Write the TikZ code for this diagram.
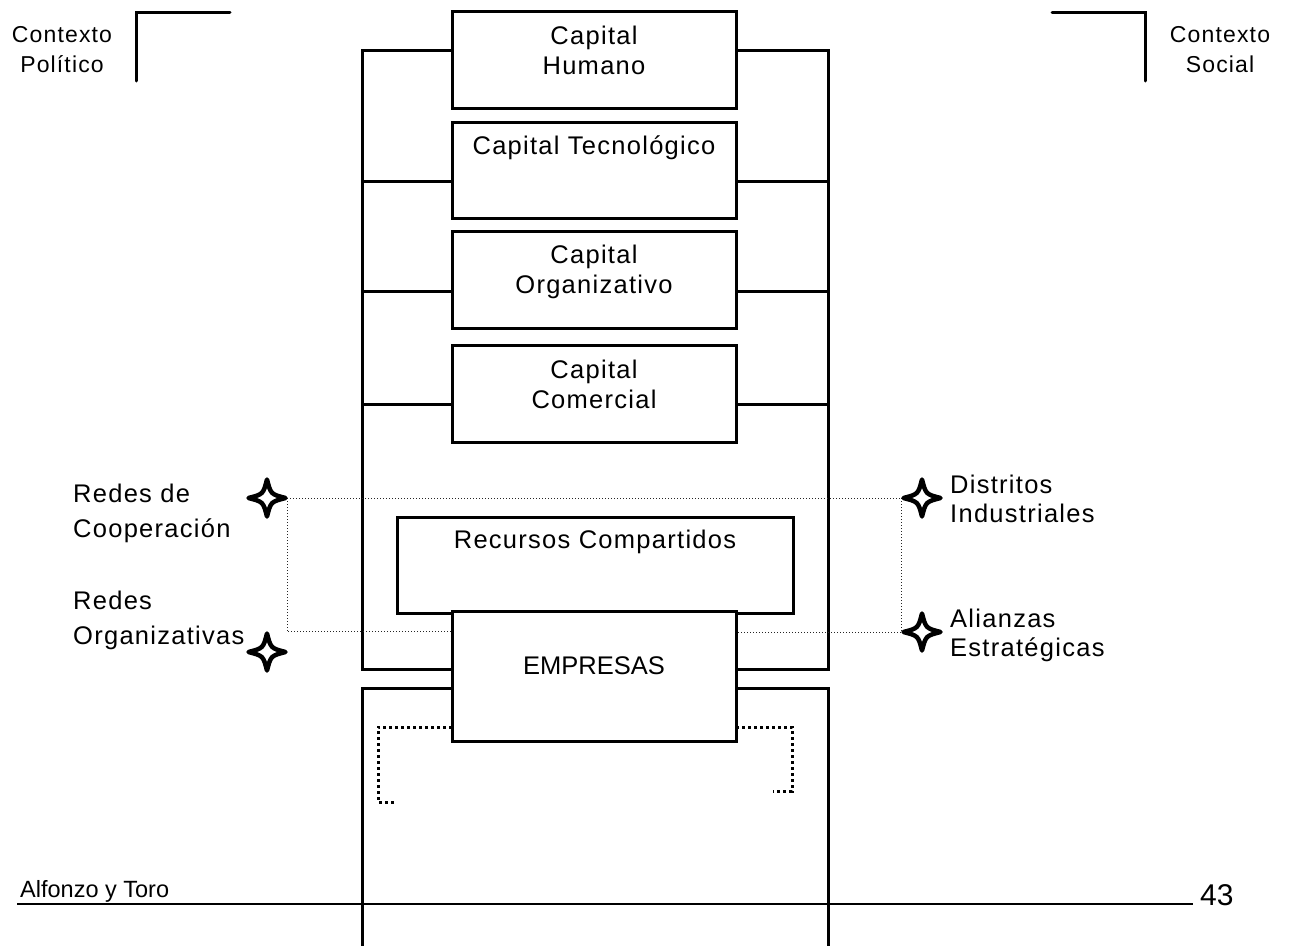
\documentclass[tikz,border=0pt]{standalone}
\usepackage{fontspec}
\setmainfont{Liberation Sans}
\newfontfamily\spacedfont[LetterSpace=5]{Liberation Sans}
\usetikzlibrary{calc}
\begin{document}
\begin{tikzpicture}[x=1pt,y=-1pt,
  box/.style={draw, line width=3pt, fill=white, inner sep=0pt, minimum width=281pt},
  txt/.style={font=\spacedfont\fontsize{25.5}{29.5}\selectfont, inner sep=0pt, align=center},
  lbl/.style={font=\spacedfont\fontsize{25.5}{35}\selectfont, inner sep=0pt, align=left, anchor=base west},
  lblr/.style={font=\spacedfont\fontsize{25.5}{29}\selectfont, inner sep=0pt, align=left, anchor=base west},
  ctx/.style={font=\spacedfont\fontsize{23}{30}\selectfont, inner sep=0pt, align=center, anchor=base},
  frame/.style={line width=3pt, line join=miter},
  corner/.style={line width=3pt, line cap=round},
  dotline/.style={line width=1pt, dash pattern=on 1pt off 2pt, black!85},
  bracket/.style={line width=3pt, dash pattern=on 3pt off 3pt},
  starnode/.style={circle, minimum size=40pt, inner sep=0pt, draw=none},
  star4/.pic={\draw[line width=4.5pt, fill=white, line join=round]
     (0,-18.5) .. controls (3.8,-3.8) .. (18.5,0) .. controls (3.8,3.8) .. (0,18.5)
     .. controls (-3.8,3.8) .. (-18.5,0) .. controls (-3.8,-3.8) .. cycle;}
]
\useasboundingbox[fill=white] (0,0) rectangle (1292,945);

% boxes (positions only)
\path
  (594,60)    node[box, minimum height=94pt] (ch) {}
  (594,170.5) node[box, minimum height=93pt] (ct) {}
  (594,280)   node[box, minimum height=94pt] (co) {}
  (594,394)   node[box, minimum height=94pt] (cc) {}
  (595.5,565.5) node[box, minimum width=393pt, minimum height=93pt] (rc) {}
  (594,676.5) node[box, minimum height=127pt] (emp) {};

% stars anchors
\node[starnode] (s1) at (267,498) {};
\node[starnode] (s2) at (267,652) {};
\node[starnode] (s3) at (922,498) {};
\node[starnode] (s4) at (922,632) {};

% corner marks
\draw[corner] (230,12) -- (136,12) -- (136,81);
\draw[corner] (1052,12) -- (1145,12) -- (1145,81);

% upper frame
\draw[frame] (ch.west |- 0,50) -- (362,50) -- (362,669) -- (emp.west |- 0,669);
\draw[frame] (ch.east |- 0,50) -- (828,50) -- (828,669) -- (emp.east |- 0,669);
\foreach \b/\y in {ct/181, co/291, cc/404} {
  \draw[frame] (\b.west |- 0,\y) -- (362,\y);
  \draw[frame] (\b.east |- 0,\y) -- (828,\y);
}
% lower frame
\draw[frame] (emp.west |- 0,688) -- (362,688) -- (362,947);
\draw[frame] (emp.east |- 0,688) -- (828,688) -- (828,947);

% dotted links
\draw[dotline] (s1.east) -- (s3.west);
\draw[dotline] (s1.east) -- (s1.east |- s2.north) -- (emp.west |- s2.north);
\draw[dotline] (s3.west) -- (s4.west) -- (emp.east |- s4.west);

% thick dotted brackets
\draw[bracket] (emp.west |- 0,727) -- (378,727) -- (378,802) -- (395,802);
\draw[bracket] (emp.east |- 0,727) -- (792,727) -- (792,791) -- (773,791);

% redraw boxes on top
\foreach \n in {ch,ct,co,cc,rc,emp} {
  \draw[line width=3pt, fill=white] (\n.north west) rectangle (\n.south east);
}

% stars
\foreach \s in {s1,s2,s3,s4} { \pic at (\s) {star4}; }

% box texts (base = last line)
\node[txt, anchor=base] (tch) at (594,74) {Capital\\Humano};
\node[txt, anchor=base] (tct) at (594,154) {Capital Tecnológico};
\node[txt, anchor=base] (tco) at (594,293) {Capital\\Organizativo};
\node[txt, anchor=base] (tcc) at (594,408) {Capital\\Comercial};
\node[txt, anchor=base] (trc) at (595,548) {Recursos Compartidos};
\node[font=\fontsize{25.5}{30}\selectfont, inner sep=0pt, anchor=base] (temp) at (594,674) {EMPRESAS};

% side labels
\node[lbl] (l1) at (73,537) {Redes de\\Cooperación};
\node[lbl] (l2) at (73,644) {Redes\\Organizativas};
\node[lblr] (r1) at (950,522) {Distritos\\Industriales};
\node[lblr] (r2) at (950,656) {Alianzas\\Estratégicas};

% context labels
\node[ctx] (cp) at (62,72) {Contexto\\Político};
\node[ctx] (cs) at (1220,72) {Contexto\\Social};

% footer
\draw[line width=2.5pt] (17,904) -- (1193,904);
\node[font=\fontsize{23.5}{28}\selectfont, inner sep=0pt, anchor=base west] (ft) at (20,897) {Alfonzo y Toro};
\node[font=\fontsize{30}{34}\selectfont, inner sep=0pt, anchor=base west] (pg) at (1200,905) {43};
\end{tikzpicture}
\end{document}
